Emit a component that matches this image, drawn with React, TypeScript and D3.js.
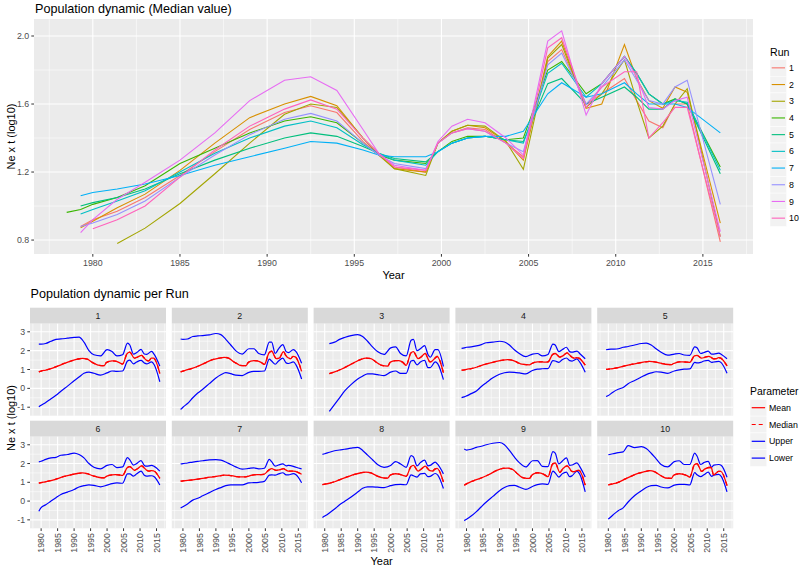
import React from "react";
import * as d3 from "d3";

// ---- data ----
const runIds = ["1", "2", "3", "4", "5", "6", "7", "8", "9", "10"];
const runColors = ["#F8766D", "#D89000", "#A3A500", "#39B600", "#00BF7D", "#00BFC4", "#00B0F6", "#9590FF", "#E76BF3", "#FF62BC"];

// years of the median series (top panel, red lines of the facets)
const years = [1978.5, 1979.3, 1980.0, 1981.4, 1983, 1985, 1987, 1989, 1991, 1992.5, 1994, 1995.5, 1996.4, 1997.3, 1999.1, 1999.8, 2000.6, 2001.5, 2002.5, 2003.7, 2004.7, 2006.1, 2006.9, 2008.3, 2009.2, 2010.5, 2011.2, 2011.9, 2012.7, 2013.4, 2014.1, 2016.0];

const median1 = [null, 0.88, 0.92, 0.97, 1.05, 1.18, 1.32, 1.45, 1.55, 1.59, 1.55, 1.38, 1.30, 1.23, 1.20, 1.37, 1.43, 1.46, 1.45, 1.37, 1.29, 1.85, 1.92, 1.60, 1.66, 1.75, 1.62, 1.50, 1.46, 1.60, 1.60, 0.79];
const median2 = [null, 0.873, 0.91, 0.99, 1.07, 1.21, 1.37, 1.52, 1.60, 1.645, 1.59, 1.40, 1.31, 1.22, 1.20, 1.37, 1.44, 1.475, 1.46, 1.38, 1.27, 1.88, 1.97, 1.575, 1.60, 1.95, 1.75, 1.62, 1.575, 1.70, 1.67, 0.90];
const median3 = [null, null, null, 0.78, 0.87, 1.015, 1.19, 1.37, 1.54, 1.60, 1.58, 1.40, 1.30, 1.22, 1.18, 1.37, 1.44, 1.475, 1.47, 1.38, 1.216, 1.87, 1.95, 1.58, 1.66, 1.86, 1.62, 1.40, 1.47, 1.60, 1.69, 0.82];
const median4 = [0.963, 0.98, 1.01, 1.05, 1.12, 1.25, 1.34, 1.43, 1.50, 1.525, 1.49, 1.37, 1.30, 1.27, 1.25, 1.32, 1.38, 1.41, 1.41, 1.39, 1.40, 1.80, 1.85, 1.66, 1.72, 1.88, 1.78, 1.66, 1.60, 1.63, 1.60, 1.23];
const median5 = [null, 1.00, 1.02, 1.05, 1.10, 1.19, 1.27, 1.34, 1.40, 1.43, 1.41, 1.35, 1.31, 1.28, 1.26, 1.32, 1.37, 1.40, 1.41, 1.39, 1.38, 1.72, 1.75, 1.60, 1.64, 1.70, 1.64, 1.57, 1.57, 1.63, 1.60, 1.19];
const median6 = [null, 0.953, 0.98, 1.03, 1.09, 1.20, 1.31, 1.40, 1.47, 1.50, 1.46, 1.36, 1.31, 1.27, 1.24, 1.32, 1.37, 1.40, 1.41, 1.39, 1.37, 1.78, 1.84, 1.64, 1.72, 1.88, 1.78, 1.66, 1.60, 1.62, 1.61, 1.21];
const median7 = [null, 1.06, 1.08, 1.10, 1.13, 1.18, 1.24, 1.29, 1.34, 1.38, 1.37, 1.33, 1.30, 1.29, 1.29, 1.32, 1.37, 1.40, 1.41, 1.41, 1.44, 1.66, 1.725, 1.64, 1.66, 1.725, 1.66, 1.60, 1.60, 1.60, 1.58, 1.43];
const median8 = [null, 0.88, 0.90, 0.95, 1.03, 1.17, 1.30, 1.42, 1.51, 1.545, 1.50, 1.37, 1.30, 1.25, 1.22, 1.37, 1.43, 1.455, 1.44, 1.37, 1.32, 1.83, 1.90, 1.60, 1.70, 1.86, 1.74, 1.62, 1.60, 1.70, 1.74, 1.01];
const median9 = [null, 0.843, 0.92, 1.04, 1.14, 1.27, 1.43, 1.62, 1.74, 1.76, 1.68, 1.45, 1.31, 1.24, 1.21, 1.38, 1.47, 1.51, 1.49, 1.40, 1.30, 1.97, 2.03, 1.535, 1.72, 1.88, 1.76, 1.58, 1.57, 1.62, 1.64, 0.85];
const median10 = [null, null, 0.867, 0.92, 1.00, 1.17, 1.33, 1.47, 1.57, 1.624, 1.57, 1.40, 1.31, 1.23, 1.21, 1.37, 1.43, 1.455, 1.44, 1.37, 1.28, 1.93, 1.99, 1.58, 1.70, 1.79, 1.79, 1.40, 1.49, 1.58, 1.58, 0.82];

// years of the upper / lower bounds (facets)
const bandYears = [1978.5, 1979.3, 1980, 1981.4, 1983, 1984.5, 1986, 1988, 1990, 1991.5, 1993, 1994.5, 1996, 1998, 2000, 2001.5, 2003, 2004.7, 2006.2, 2006.9, 2008, 2009, 2010.3, 2011.3, 2012, 2013.5, 2014.3, 2016.0];

const upper1 = [null, 2.35, 2.35, 2.38, 2.5, 2.6, 2.62, 2.66, 2.7, 2.72, 2.45, 2.0, 1.78, 1.72, 2.05, 1.95, 1.72, 1.78, 2.40, 2.30, 1.82, 1.9, 2.07, 1.82, 1.80, 1.96, 1.80, 1.18];
const lower1 = [null, -0.98, -0.9, -0.75, -0.55, -0.37, -0.15, 0.12, 0.4, 0.6, 0.8, 0.86, 0.8, 0.7, 0.82, 0.92, 0.9, 0.92, 1.45, 1.5, 1.30, 1.40, 1.48, 1.35, 1.30, 1.40, 1.25, 0.35];
const upper2 = [null, 2.62, 2.6, 2.62, 2.75, 2.78, 2.8, 2.84, 2.91, 2.85, 2.6, 2.3, 2.0, 1.82, 2.1, 2.1, 1.85, 1.78, 2.45, 2.45, 1.85, 2.1, 2.32, 1.95, 1.90, 2.05, 1.95, 1.33];
const lower2 = [null, -1.12, -1.0, -0.8, -0.5, -0.25, -0.05, 0.25, 0.55, 0.72, 0.83, 0.78, 0.70, 0.68, 0.85, 0.90, 0.90, 0.92, 1.55, 1.45, 1.28, 1.45, 1.60, 1.35, 1.32, 1.40, 1.25, 0.5];
const upper3 = [null, null, null, 2.37, 2.45, 2.6, 2.7, 2.8, 2.85, 2.75, 2.5, 2.2, 1.95, 1.8, 2.15, 2.2, 1.85, 1.72, 2.55, 2.6, 2.0, 2.1, 2.27, 1.8, 1.65, 2.05, 2.05, 1.16];
const lower3 = [null, null, null, -1.22, -0.85, -0.5, -0.15, 0.2, 0.5, 0.65, 0.77, 0.77, 0.73, 0.68, 0.86, 0.92, 0.80, 0.80, 1.45, 1.48, 1.25, 1.40, 1.48, 1.10, 1.10, 1.40, 1.30, 0.46];
const upper4 = [2.12, 2.15, 2.18, 2.2, 2.25, 2.32, 2.42, 2.45, 2.5, 2.46, 2.3, 2.05, 1.85, 1.68, 1.82, 1.85, 1.72, 1.80, 2.35, 2.30, 1.95, 2.05, 2.18, 1.95, 1.92, 1.98, 1.85, 1.57];
const lower4 = [-0.49, -0.45, -0.40, -0.28, -0.14, 0.10, 0.30, 0.56, 0.75, 0.83, 0.86, 0.85, 0.82, 0.77, 0.95, 1.02, 1.04, 1.05, 1.47, 1.45, 1.38, 1.52, 1.61, 1.47, 1.45, 1.56, 1.40, 0.86];
const upper5 = [null, 2.05, 2.07, 2.08, 2.1, 2.18, 2.22, 2.3, 2.38, 2.4, 2.3, 2.1, 1.92, 1.76, 1.82, 1.85, 1.77, 1.75, 2.20, 2.15, 1.85, 1.90, 1.98, 1.82, 1.82, 1.87, 1.80, 1.57];
const lower5 = [null, -0.43, -0.38, -0.2, -0.05, 0.05, 0.25, 0.42, 0.6, 0.73, 0.82, 0.88, 0.86, 0.80, 0.92, 0.98, 1.02, 1.03, 1.38, 1.35, 1.38, 1.45, 1.48, 1.38, 1.40, 1.43, 1.35, 0.8];
const upper6 = [null, 2.09, 2.12, 2.22, 2.3, 2.33, 2.44, 2.48, 2.56, 2.48, 2.3, 2.0, 1.8, 1.72, 1.9, 1.95, 1.78, 1.82, 2.32, 2.20, 1.92, 2.0, 2.16, 1.90, 1.86, 1.90, 1.85, 1.6];
const lower6 = [null, -0.54, -0.35, -0.2, 0.0, 0.18, 0.35, 0.48, 0.62, 0.75, 0.82, 0.86, 0.84, 0.76, 0.85, 0.93, 0.97, 0.95, 1.45, 1.45, 1.33, 1.45, 1.60, 1.38, 1.33, 1.35, 1.30, 0.86];
const upper7 = [null, 1.98, 2.0, 2.03, 2.08, 2.12, 2.15, 2.2, 2.21, 2.18, 2.08, 1.95, 1.82, 1.70, 1.74, 1.77, 1.72, 1.75, 2.22, 2.10, 1.86, 1.92, 1.98, 1.88, 1.90, 1.85, 1.80, 1.72];
const lower7 = [null, -0.37, -0.3, -0.15, 0.05, 0.15, 0.28, 0.45, 0.62, 0.72, 0.82, 0.86, 0.86, 0.86, 0.97, 0.98, 1.0, 1.05, 1.38, 1.40, 1.38, 1.45, 1.51, 1.40, 1.40, 1.46, 1.40, 0.98];
const upper8 = [null, 2.49, 2.52, 2.6, 2.68, 2.72, 2.76, 2.82, 2.86, 2.70, 2.45, 2.2, 1.95, 1.80, 1.90, 2.10, 1.98, 1.80, 2.42, 2.35, 1.88, 2.05, 2.18, 1.88, 1.90, 2.08, 1.95, 1.45];
const lower8 = [null, -0.88, -0.80, -0.63, -0.42, -0.2, -0.02, 0.22, 0.48, 0.68, 0.76, 0.76, 0.74, 0.72, 0.82, 0.88, 0.89, 0.87, 1.40, 1.35, 1.28, 1.45, 1.48, 1.30, 1.32, 1.47, 1.38, 0.67];
const upper9 = [null, 2.77, 2.72, 2.76, 2.86, 2.92, 3.0, 3.08, 3.12, 3.0, 2.7, 2.35, 2.05, 1.82, 2.15, 2.16, 1.85, 1.84, 2.63, 2.55, 1.98, 2.12, 2.30, 1.90, 1.92, 2.04, 1.85, 1.28];
const lower9 = [null, -1.04, -0.97, -0.80, -0.56, -0.3, -0.05, 0.25, 0.55, 0.72, 0.82, 0.84, 0.75, 0.62, 0.78, 0.88, 0.92, 0.89, 1.60, 1.50, 1.28, 1.45, 1.54, 1.30, 1.35, 1.60, 1.45, 0.49];
const upper10 = [null, null, 2.47, 2.52, 2.58, 2.62, 2.95, 2.85, 2.9, 2.8, 2.55, 2.25, 1.95, 1.82, 2.10, 2.15, 1.95, 1.95, 2.55, 2.40, 1.95, 2.05, 2.12, 1.80, 1.92, 1.95, 1.90, 1.27];
const lower10 = [null, null, -0.96, -0.74, -0.51, -0.36, -0.05, 0.3, 0.55, 0.72, 0.82, 0.84, 0.75, 0.70, 0.85, 0.89, 0.89, 0.86, 1.52, 1.40, 1.30, 1.40, 1.54, 1.32, 1.38, 1.42, 1.30, 0.49];

const xTicks = [1980, 1985, 1990, 1995, 2000, 2005, 2010, 2015];
const topYTicks = [0.8, 1.2, 1.6, 2.0];
const facetYTicks = [-1, 0, 1, 2, 3];
const paramNames = ["Mean", "Median", "Upper", "Lower"];

const medians = [median1, median2, median3, median4, median5, median6, median7, median8, median9, median10];
const uppers = [upper1, upper2, upper3, upper4, upper5, upper6, upper7, upper8, upper9, upper10];
const lowers = [lower1, lower2, lower3, lower4, lower5, lower6, lower7, lower8, lower9, lower10];

// ---- layout ----
const FONT = "'Liberation Sans', Arial, Helvetica, sans-serif";
const BG = "#EBEBEB";
const TICK_TXT = "#4D4D4D";

const xExt = d3.extent(years) as [number, number];
const xPad = (xExt[1] - xExt[0]) * 0.05;
const xDomain = [xExt[0] - xPad, xExt[1] + xPad];

const top = { left: 34, right: 753, top: 19, bottom: 254 };
const xTop = d3.scaleLinear().domain(xDomain).range([top.left, top.right]);
const yTop = d3.scaleLinear().domain([0.718, 2.1]).range([top.bottom, top.top]);

const facetW = 136;
const facetStep = 141.8;
const facetX0 = 30;
const facetRows = [
  { strip: 307.7, top: 323.7, bottom: 415.7 },
  { strip: 420.7, top: 436.7, bottom: 528.3 },
];
const facetYDomain = [-1.45, 3.43];

function pathOf(xs: number[], ys: (number | null)[], sx: any, sy: any, curve: any = d3.curveLinear) {
  const pts = xs.map((x, i) => [x, ys[i]] as [number, number | null]).filter((p) => p[1] != null) as [number, number][];
  return d3.line<[number, number]>().x((p) => sx(p[0])).y((p) => sy(p[1])).curve(curve)(pts) || "";
}

function minorOf(ticks: number[], step: number, lo: number, hi: number) {
  const out: number[] = [];
  const first = ticks[0] - step / 2;
  for (let v = first - step * 4; v <= hi; v += step) if (v >= lo && v <= hi) out.push(v);
  return out;
}

function Grid({ sx, sy, xt, yt, xStep, yStep }: any) {
  const [x0, x1] = sx.range();
  const [y0, y1] = sy.range();
  const xd = sx.domain();
  const yd = sy.domain();
  const xm = minorOf(xt, xStep, xd[0], xd[1]);
  const ym = minorOf(yt, yStep, yd[0], yd[1]);
  return (
    <g>
      <rect x={x0} y={y1} width={x1 - x0} height={y0 - y1} fill={BG} />
      {xm.map((v) => <line key={"xm" + v} x1={sx(v)} x2={sx(v)} y1={y0} y2={y1} stroke="#fff" strokeWidth={0.55} />)}
      {ym.map((v) => <line key={"ym" + v} x1={x0} x2={x1} y1={sy(v)} y2={sy(v)} stroke="#fff" strokeWidth={0.55} />)}
      {xt.map((v: number) => <line key={"x" + v} x1={sx(v)} x2={sx(v)} y1={y0} y2={y1} stroke="#fff" strokeWidth={1.1} />)}
      {yt.map((v: number) => <line key={"y" + v} x1={x0} x2={x1} y1={sy(v)} y2={sy(v)} stroke="#fff" strokeWidth={1.1} />)}
    </g>
  );
}

function TopChart() {
  return (
    <g>
      <text x={35} y={13} fontSize={12.6} fill="#000">Population dynamic (Median value)</text>
      <Grid sx={xTop} sy={yTop} xt={xTicks} yt={topYTicks} xStep={5} yStep={0.4} />
      {medians.map((m, i) => (
        <path key={i} d={pathOf(years, m, xTop, yTop)} fill="none" stroke={runColors[i]} strokeWidth={1.1} />
      ))}
      {topYTicks.map((v) => (
        <g key={v}>
          <line x1={top.left - 2.7} x2={top.left} y1={yTop(v)} y2={yTop(v)} stroke="#333" strokeWidth={1} />
          <text x={top.left - 4.8} y={yTop(v) + 3.1} fontSize={8.8} fill={TICK_TXT} textAnchor="end">{v.toFixed(1)}</text>
        </g>
      ))}
      {xTicks.map((v) => (
        <g key={v}>
          <line x1={xTop(v)} x2={xTop(v)} y1={top.bottom} y2={top.bottom + 2.7} stroke="#333" strokeWidth={1} />
          <text x={xTop(v)} y={top.bottom + 11.5} fontSize={8.8} fill={TICK_TXT} textAnchor="middle">{v}</text>
        </g>
      ))}
      <text x={(top.left + top.right) / 2} y={279} fontSize={11} textAnchor="middle" fill="#000">Year</text>
      <text transform={`translate(15,${(top.top + top.bottom) / 2}) rotate(-90)`} fontSize={11} textAnchor="middle" fill="#000">Ne x t (log10)</text>
      <text x={770} y={56} fontSize={10.6} fill="#000">Run</text>
      {runIds.map((id, i) => {
        const ky = 59.5 + i * 16.7;
        return (
          <g key={id}>
            <rect x={770} y={ky} width={16.7} height={16.7} fill="#F2F2F2" stroke="#fff" strokeWidth={0.5} />
            <line x1={771.7} x2={785} y1={ky + 8.35} y2={ky + 8.35} stroke={runColors[i]} strokeWidth={1.1} />
            <text x={789} y={ky + 11.4} fontSize={8.8} fill="#000">{id}</text>
          </g>
        );
      })}
    </g>
  );
}

function Facet({ idx }: { idx: number }) {
  const col = idx % 5;
  const row = Math.floor(idx / 5);
  const r = facetRows[row];
  const left = facetX0 + col * facetStep;
  const sx = d3.scaleLinear().domain(xDomain).range([left, left + facetW]);
  const sy = d3.scaleLinear().domain(facetYDomain).range([r.bottom, r.top]);
  const curve = d3.curveMonotoneX;
  return (
    <g>
      <rect x={left} y={r.strip} width={facetW} height={r.top - r.strip} fill="#D9D9D9" />
      <text x={left + facetW / 2} y={(r.strip + r.top) / 2 + 3.1} fontSize={8.8} fill="#1A1A1A" textAnchor="middle">{runIds[idx]}</text>
      <Grid sx={sx} sy={sy} xt={xTicks} yt={facetYTicks} xStep={5} yStep={1} />
      <path d={pathOf(bandYears, uppers[idx], sx, sy, curve)} fill="none" stroke="#0000FF" strokeWidth={1.2} />
      <path d={pathOf(bandYears, lowers[idx], sx, sy, curve)} fill="none" stroke="#0000FF" strokeWidth={1.2} />
      <path d={pathOf(years, medians[idx], sx, sy, curve)} fill="none" stroke="#FF0000" strokeWidth={1.3} />
      <path d={pathOf(years, medians[idx], sx, sy, curve)} fill="none" stroke="#FF0000" strokeWidth={1.3} strokeDasharray="4,4" />
      {col === 0 && facetYTicks.map((v) => (
        <g key={v}>
          <line x1={left - 2.7} x2={left} y1={sy(v)} y2={sy(v)} stroke="#333" strokeWidth={1} />
          <text x={left - 4.8} y={sy(v) + 3.1} fontSize={8.8} fill={TICK_TXT} textAnchor="end">{v}</text>
        </g>
      ))}
      {row === 1 && xTicks.map((v) => (
        <g key={v}>
          <line x1={sx(v)} x2={sx(v)} y1={r.bottom} y2={r.bottom + 2.7} stroke="#333" strokeWidth={1} />
          <text transform={`translate(${sx(v) + 3.1},${r.bottom + 4.8}) rotate(-90)`} fontSize={8.8} fill={TICK_TXT} textAnchor="end">{v}</text>
        </g>
      ))}
    </g>
  );
}

function FacetChart() {
  const paramColor = ["#FF0000", "#FF0000", "#0000FF", "#0000FF"];
  return (
    <g>
      <text x={30.5} y={298} fontSize={12.6} fill="#000">Population dynamic per Run</text>
      {runIds.map((_, i) => <Facet key={i} idx={i} />)}
      <text x={facetX0 + (4 * facetStep + facetW) / 2} y={565} fontSize={11} textAnchor="middle" fill="#000">Year</text>
      <text transform={`translate(15,${(facetRows[0].strip + facetRows[1].bottom) / 2}) rotate(-90)`} fontSize={11} textAnchor="middle" fill="#000">Ne x t (log10)</text>
      <text x={750} y={395} fontSize={10.4} fill="#000">Parameter</text>
      {paramNames.map((p, i) => {
        const ky = 399.3 + i * 16.8;
        return (
          <g key={p}>
            <rect x={750} y={ky} width={16.8} height={16.8} fill="#F2F2F2" stroke="#fff" strokeWidth={0.5} />
            <line x1={751.7} x2={765.1} y1={ky + 8.4} y2={ky + 8.4} stroke={paramColor[i]} strokeWidth={1.2} strokeDasharray={p === "Median" ? "4,3" : undefined} />
            <text x={769} y={ky + 11.5} fontSize={8.8} fill="#000">{p}</text>
          </g>
        );
      })}
    </g>
  );
}

export default function App() {
  return (
    <svg width={800} height={568} style={{ position: "absolute", left: 0, top: 0, background: "#fff" }} fontFamily={FONT}>
      <rect width={800} height={568} fill="#fff" />
      <TopChart />
      <FacetChart />
    </svg>
  );
}
